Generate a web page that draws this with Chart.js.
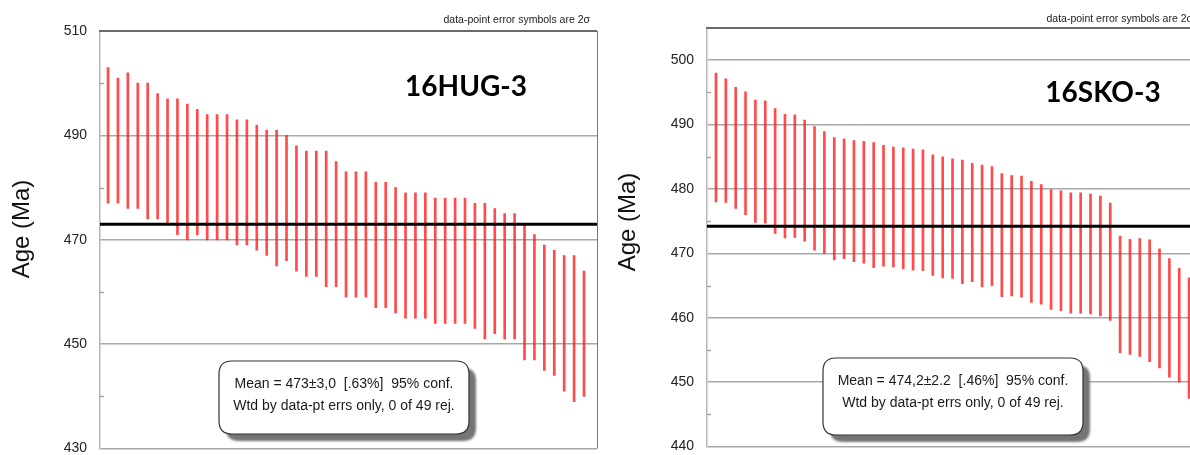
<!DOCTYPE html>
<html>
<head>
<meta charset="utf-8">
<script src="https://cdn.jsdelivr.net/npm/chart.js@4.4.1/dist/chart.umd.min.js"></script>
<style>
  html, body { margin: 0; padding: 0; background: #fff; }
  #wrap { position: relative; width: 1190px; height: 455px; overflow: hidden; background: #fff; }
  .panel { position: absolute; top: 0; }
  #p1 { left: 0; }
  #p2 { left: 600px; }
</style>
</head>
<body>
<div id="wrap">
  <div class="panel" id="p1"><canvas id="c1" width="600" height="460"></canvas></div>
  <div class="panel" id="p2"><canvas id="c2" width="610" height="458"></canvas></div>
</div>
<script>
// Grain number (x position of each error bar, ranked by age)
const grains = [1, 2, 3, 4, 5, 6, 7, 8, 9, 10, 11, 12, 13, 14, 15, 16, 17, 18, 19, 20,
  21, 22, 23, 24, 25, 26, 27, 28, 29, 30, 31, 32, 33, 34, 35, 36, 37, 38, 39, 40,
  41, 42, 43, 44, 45, 46, 47, 48, 49];

// 16HUG-3: upper and lower ends of each 2-sigma age bar (Ma)
const hugHigh = [503, 501, 502, 500, 500, 498, 497, 497, 496, 495,
  494, 494, 494, 493, 493, 492, 491, 491, 490, 488,
  487, 487, 487, 485, 483, 483, 483, 481, 481, 480,
  479, 479, 479, 478, 478, 478, 478, 477, 477, 476,
  475, 475, 473, 471, 469, 468, 467, 467, 464];
const hugLow = [477, 477, 476, 476, 474, 474, 473, 471, 470, 471,
  470, 470, 470, 469, 469, 468, 467, 465, 466, 464,
  463, 463, 461, 461, 459, 459, 459, 457, 457, 456,
  455, 455, 455, 454, 454, 454, 454, 453, 451, 452,
  451, 451, 447, 447, 445, 444, 441, 439, 440];
const hugMean = 473;

// 16SKO-3: upper and lower ends of each 2-sigma age bar (Ma)
const skoHigh = [498.0, 497.1, 495.8, 495.1, 493.8, 493.7, 492.5, 491.6, 491.5, 490.7,
  489.7, 488.9, 488.0, 487.8, 487.5, 487.4, 487.2, 486.8, 486.5, 486.4,
  486.2, 486.1, 485.3, 485.0, 484.7, 484.5, 484.0, 483.7, 483.5, 482.4,
  482.1, 482.0, 481.2, 480.7, 479.9, 479.7, 479.4, 479.4, 479.2, 478.9,
  477.8, 472.7, 472.2, 472.3, 472.1, 470.7, 469.2, 467.7, 466.2];
const skoLow = [478.0, 477.9, 477.0, 476.0, 474.8, 474.7, 473.1, 472.4, 472.5, 471.9,
  470.5, 470.0, 469.0, 469.2, 468.7, 468.5, 467.8, 468.0, 467.9, 467.6,
  467.4, 467.3, 466.6, 466.2, 466.1, 465.3, 465.6, 464.8, 465.0, 463.3,
  463.4, 463.2, 462.4, 462.1, 461.3, 461.1, 460.7, 460.7, 460.6, 460.3,
  459.6, 454.6, 454.3, 454.0, 453.2, 452.2, 450.8, 450.0, 447.5];
const skoMean = 474.2;

// Labelled (major) and unlabelled (minor) age ticks
const hugTicks = [430, 450, 470, 490, 510];
const hugMinor = [440, 460, 480, 500];
const skoTicks = [440, 450, 460, 470, 480, 490, 500];
const skoMinor = [445, 455, 465, 475, 485, 495];

// Texts
const axisTitle = 'Age (Ma)';
const errNote = 'data-point error symbols are 2\u03c3';
const hugName = '16HUG-3';
const skoName = '16SKO-3';
const hugStats = ['Mean = 473\u00b13,0  [.63%]  95% conf.', 'Wtd by data-pt errs only, 0 of 49 rej.'];
const skoStats = ['Mean = 474,2\u00b12.2  [.46%]  95% conf.', 'Wtd by data-pt errs only, 0 of 49 rej.'];

function roundRect(ctx, x, y, w, h, r) {
  ctx.beginPath();
  ctx.moveTo(x + r, y);
  ctx.lineTo(x + w - r, y);
  ctx.quadraticCurveTo(x + w, y, x + w, y + r);
  ctx.lineTo(x + w, y + h - r);
  ctx.quadraticCurveTo(x + w, y + h, x + w - r, y + h);
  ctx.lineTo(x + r, y + h);
  ctx.quadraticCurveTo(x, y + h, x, y + h - r);
  ctx.lineTo(x, y + r);
  ctx.quadraticCurveTo(x, y, x + r, y);
  ctx.closePath();
}

// Frame, minor ticks, weighted-mean line, sample name, note and stats box
const panelDecor = {
  id: 'panelDecor',
  afterDatasetsDraw(chart, args, o) {
    const { ctx, chartArea: a, scales: { y } } = chart;
    ctx.save();

    // minor tick marks on the inner side of the age axis
    ctx.strokeStyle = '#a0a0a0';
    ctx.lineWidth = 1.3;
    o.minor.forEach(v => {
      const py = Math.round(y.getPixelForValue(v)) + 0.5;
      ctx.beginPath();
      ctx.moveTo(a.left, py);
      ctx.lineTo(a.left + 4, py);
      ctx.stroke();
    });

    // top and right frame
    ctx.strokeStyle = '#6a6a6a';
    ctx.lineWidth = 2.2;
    ctx.beginPath();
    ctx.moveTo(a.left - 1, a.top);
    ctx.lineTo(a.right, a.top);
    ctx.stroke();
    ctx.strokeStyle = '#777';
    ctx.lineWidth = 1;
    ctx.beginPath();
    ctx.moveTo(a.right + 0.5, a.top);
    ctx.lineTo(a.right + 0.5, a.bottom);
    ctx.stroke();

    // weighted mean
    const my = y.getPixelForValue(o.mean);
    ctx.strokeStyle = '#000';
    ctx.lineWidth = 3;
    ctx.beginPath();
    ctx.moveTo(a.left, my);
    ctx.lineTo(a.right, my);
    ctx.stroke();

    // sample name
    ctx.fillStyle = '#000';
    ctx.font = 'bold 28px Lato';
    ctx.textAlign = 'center';
    ctx.textBaseline = 'alphabetic';
    ctx.fillText(o.name, o.nameX, o.nameY);

    // error note above the frame
    ctx.fillStyle = '#222';
    ctx.font = '10.5px "Liberation Sans"';
    ctx.textAlign = 'right';
    ctx.fillText(o.note, o.noteX, o.noteY);

    // axis title
    ctx.save();
    ctx.translate(o.titleX, o.titleY);
    ctx.rotate(-Math.PI / 2);
    ctx.fillStyle = '#111';
    ctx.font = '24px "Liberation Sans"';
    ctx.textAlign = 'center';
    ctx.textBaseline = 'middle';
    ctx.fillText(axisTitle, 0, 0);
    ctx.restore();

    // stats box with drop shadow
    const b = o.box;
    ctx.save();
    ctx.filter = 'blur(1px)';
    ctx.fillStyle = '#757575';
    roundRect(ctx, b.x + 7, b.y + 7, b.w, b.h, 13);
    ctx.fill();
    ctx.restore();
    ctx.fillStyle = '#fff';
    roundRect(ctx, b.x, b.y, b.w, b.h, 13);
    ctx.fill();
    ctx.strokeStyle = '#333';
    ctx.lineWidth = 1.2;
    ctx.stroke();
    ctx.fillStyle = '#1a1a1a';
    ctx.font = '14px "Liberation Sans"';
    ctx.textAlign = 'center';
    ctx.textBaseline = 'middle';
    o.stats.forEach((t, i) => ctx.fillText(t, b.x + b.w / 2, b.y + 23 + i * 22));

    ctx.restore();
  }
};

function makePanel(canvasId, p) {
  const points = grains.map((g, i) => ({ x: g, y: [p.low[i], p.high[i]] }));
  return new Chart(document.getElementById(canvasId), {
    type: 'bar',
    data: {
      datasets: [{
        data: points,
        backgroundColor: 'rgba(255, 30, 30, 0.8)',
        borderWidth: 0,
        barThickness: 2,
        grouped: false
      }]
    },
    options: {
      responsive: false,
      animation: false,
      devicePixelRatio: 1,
      layout: { padding: { left: 0, top: p.padTop, right: p.padRight, bottom: 0 } },
      plugins: {
        legend: { display: false },
        tooltip: { enabled: false },
        panelDecor: p.decor
      },
      scales: {
        x: { type: 'linear', display: false, offset: false, min: p.xMin, max: p.xMax },
        y: {
          min: p.yMin,
          max: p.yMax,
          afterFit(s) { s.width = p.axisWidth; },
          afterBuildTicks(s) { s.ticks = p.ticks.map(v => ({ value: v })); },
          ticks: {
            color: '#222',
            font: { family: 'Liberation Sans', size: 14 },
            padding: 3,
            callback: v => String(v)
          },
          grid: { color: '#a8a8a8', lineWidth: 1.6, drawTicks: true, tickLength: 10, tickColor: 'rgba(0,0,0,0)' },
          border: { display: true, color: '#b8b8b8', width: 1.5 }
        }
      }
    },
    plugins: [panelDecor]
  });
}

makePanel('c1', {
  low: hugLow, high: hugHigh, ticks: hugTicks,
  yMin: 430, yMax: 510, xMin: 0.19, xMax: 50.31,
  axisWidth: 100, padTop: 31, padRight: 3,
  decor: {
    mean: hugMean, minor: hugMinor, name: hugName, nameX: 466, nameY: 96,
    note: errNote, noteX: 590, noteY: 23, titleX: 22, titleY: 229,
    stats: hugStats, box: { x: 219, y: 361, w: 250, h: 73 }
  }
});

makePanel('c2', {
  low: skoLow, high: skoHigh, ticks: skoTicks,
  yMin: 440, yMax: 505, xMin: 0.09, xMax: 50.31,
  axisWidth: 107, padTop: 28, padRight: 8,
  decor: {
    mean: skoMean, minor: skoMinor, name: skoName, nameX: 503, nameY: 102,
    note: errNote, noteX: 593, noteY: 22, titleX: 28, titleY: 222,
    stats: skoStats, box: { x: 223, y: 358, w: 260, h: 77 }
  }
});
</script>
</body>
</html>
